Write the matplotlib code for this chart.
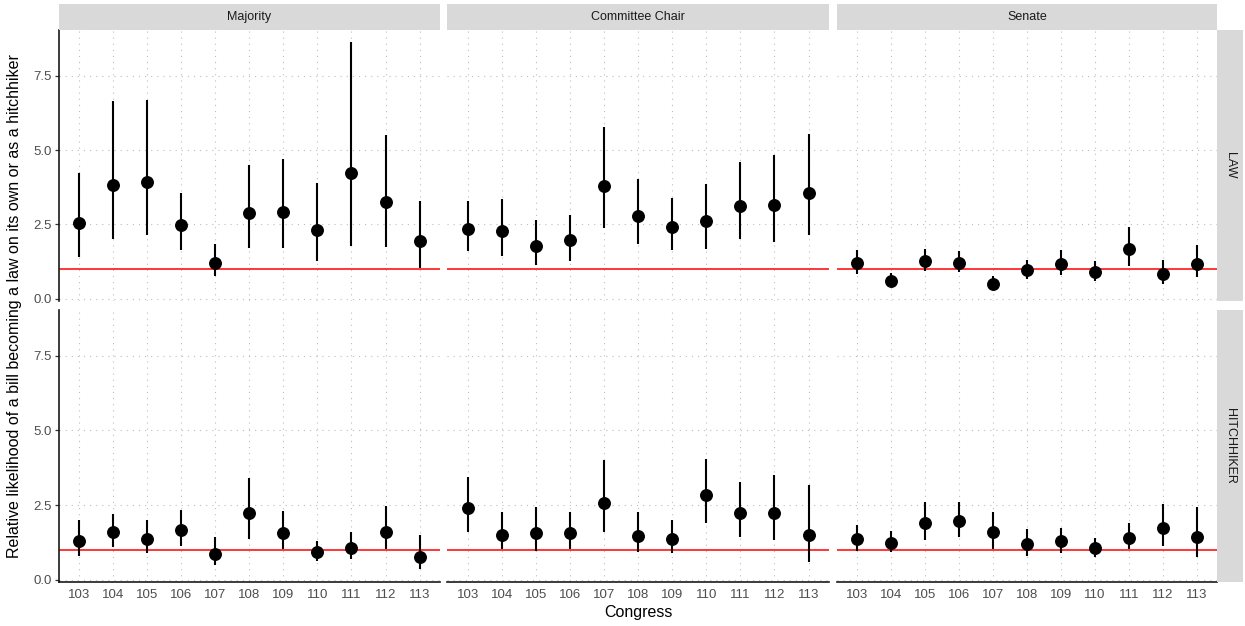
import matplotlib
matplotlib.use("Agg")
import matplotlib.pyplot as plt
import numpy as np

plt.rcParams['font.family'] = ['Liberation Sans', 'DejaVu Sans']

congress = [103, 104, 105, 106, 107, 108, 109, 110, 111, 112, 113]
columns = ["Majority", "Committee Chair", "Senate"]
rows = ["LAW", "HITCHHIKER"]

# LAW row: estimate, lower, upper
maj_law = [2.53, 3.82, 3.94, 2.47, 1.19, 2.87, 2.92, 2.31, 4.22, 3.25, 1.94]
maj_law_lo = [1.40, 2.00, 2.15, 1.65, 0.75, 1.72, 1.72, 1.25, 1.76, 1.74, 1.03]
maj_law_hi = [4.23, 6.65, 6.70, 3.56, 1.85, 4.48, 4.69, 3.89, 8.62, 5.51, 3.30]

chair_law = [2.34, 2.26, 1.78, 1.96, 3.80, 2.78, 2.40, 2.60, 3.12, 3.14, 3.54]
chair_law_lo = [1.59, 1.42, 1.14, 1.28, 2.39, 1.84, 1.65, 1.66, 2.00, 1.89, 2.13]
chair_law_hi = [3.29, 3.35, 2.65, 2.82, 5.78, 4.03, 3.39, 3.85, 4.60, 4.84, 5.54]

sen_law = [1.21, 0.60, 1.27, 1.21, 0.49, 0.95, 1.18, 0.91, 1.66, 0.84, 1.16]
sen_law_lo = [0.84, 0.44, 0.92, 0.88, 0.35, 0.66, 0.80, 0.58, 1.09, 0.50, 0.72]
sen_law_hi = [1.65, 0.86, 1.68, 1.61, 0.75, 1.31, 1.65, 1.28, 2.42, 1.31, 1.81]

# HITCHHIKER row
maj_hh = [1.30, 1.58, 1.36, 1.65, 0.87, 2.22, 1.56, 0.91, 1.07, 1.61, 0.76]
maj_hh_lo = [0.79, 1.10, 0.89, 1.12, 0.50, 1.37, 1.04, 0.63, 0.69, 1.04, 0.34]
maj_hh_hi = [1.99, 2.19, 2.00, 2.35, 1.42, 3.42, 2.29, 1.29, 1.58, 2.47, 1.49]

chair_hh = [2.40, 1.51, 1.56, 1.55, 2.57, 1.46, 1.36, 2.83, 2.24, 2.24, 1.51]
chair_hh_lo = [1.60, 1.01, 0.95, 1.02, 1.58, 0.91, 0.89, 1.90, 1.43, 1.33, 0.59]
chair_hh_hi = [3.44, 2.26, 2.45, 2.28, 4.00, 2.26, 2.01, 4.06, 3.27, 3.50, 3.16]

sen_hh = [1.35, 1.24, 1.89, 1.96, 1.58, 1.20, 1.29, 1.05, 1.41, 1.74, 1.42]
sen_hh_lo = [0.96, 0.93, 1.32, 1.43, 1.04, 0.78, 0.89, 0.76, 1.01, 1.13, 0.76]
sen_hh_hi = [1.84, 1.62, 2.60, 2.60, 2.27, 1.71, 1.74, 1.41, 1.91, 2.53, 2.44]

panels = [
    [(maj_law, maj_law_lo, maj_law_hi), (chair_law, chair_law_lo, chair_law_hi), (sen_law, sen_law_lo, sen_law_hi)],
    [(maj_hh, maj_hh_lo, maj_hh_hi), (chair_hh, chair_hh_lo, chair_hh_hi), (sen_hh, sen_hh_lo, sen_hh_hi)],
]

W, H = 1245, 626
fig = plt.figure(figsize=(W / 100, H / 100), dpi=100)

# panel edges in pixels
col_x = [(58.7, 440.0), (447.3, 829.0), (836.7, 1217.3)]
row_y = [(30.0, 301.0), (310.0, 582.0)]
strip_top = (4.0, 30.0)
strip_right = (1217.3, 1243.0)

grid_kw = dict(color="#BDBDBD", linewidth=0.8, linestyle=(0, (1, 4.5)))
xpos = np.arange(len(congress))


def strip(rect, label, rot):
    sax = fig.add_axes(rect)
    sax.set_facecolor("#D9D9D9")
    sax.set_xticks([])
    sax.set_yticks([])
    for s in sax.spines.values():
        s.set_visible(False)
    sax.text(0.5, 0.5, label, ha="center", va="center", rotation=rot,
             fontsize=9, color="#1A1A1A", transform=sax.transAxes)


for r in range(2):
    for c in range(3):
        x0, x1 = col_x[c]
        y0, y1 = row_y[r]
        ax = fig.add_axes([x0 / W, 1 - y1 / H, (x1 - x0) / W, (y1 - y0) / H])
        est, lo, hi = panels[r][c]
        ax.set_xlim(-0.6, len(congress) - 0.4)
        ax.set_ylim(-0.08, 9.04)
        ax.set_yticks([0, 2.5, 5.0, 7.5])
        ax.set_xticks(xpos)
        ax.grid(True, **grid_kw)
        ax.set_axisbelow(True)
        for s in ax.spines.values():
            s.set_visible(False)
        ax.axhline(1, color="#FF0000", linewidth=1.1, zorder=2)
        ax.vlines(xpos, lo, hi, color="black", linewidth=1.5, zorder=3)
        ax.plot(xpos, est, "o", color="black", markersize=8.3, zorder=4)

        ax.tick_params(axis="y", colors="#333333", labelcolor="#4D4D4D", labelsize=9.5,
                       length=2.8, width=0.9, pad=2)
        ax.tick_params(axis="x", labelcolor="#4D4D4D", labelsize=9.5, length=0, pad=5)
        if c == 0:
            ax.spines["left"].set_visible(True)
            ax.spines["left"].set_color("#1A1A1A")
            ax.spines["left"].set_linewidth(1.2)
            ax.set_yticklabels(["0.0", "2.5", "5.0", "7.5"])
        else:
            ax.tick_params(axis="y", left=False, labelleft=False)
        if r == 1:
            ax.spines["bottom"].set_visible(True)
            ax.spines["bottom"].set_color("#1A1A1A")
            ax.spines["bottom"].set_linewidth(1.2)
            ax.set_xticklabels([str(v) for v in congress])
        else:
            ax.tick_params(axis="x", bottom=False, labelbottom=False)

        if r == 0:
            strip([x0 / W, 1 - strip_top[1] / H, (x1 - x0) / W,
                   (strip_top[1] - strip_top[0]) / H], columns[c], 0)
        if c == 2:
            strip([strip_right[0] / W, 1 - y1 / H,
                   (strip_right[1] - strip_right[0]) / W, (y1 - y0) / H], rows[r], -90)

fig.text(15 / W, 1 - 306 / H,
         "Relative likelihood of a bill becoming a law on its own or as a hitchhiker",
         rotation=90, ha="center", va="center", fontsize=11.5, color="black")
fig.text(638 / W, 1 - 613 / H, "Congress", ha="center", va="center",
         fontsize=11.5, color="black")

fig.savefig("out.png", dpi=100)
